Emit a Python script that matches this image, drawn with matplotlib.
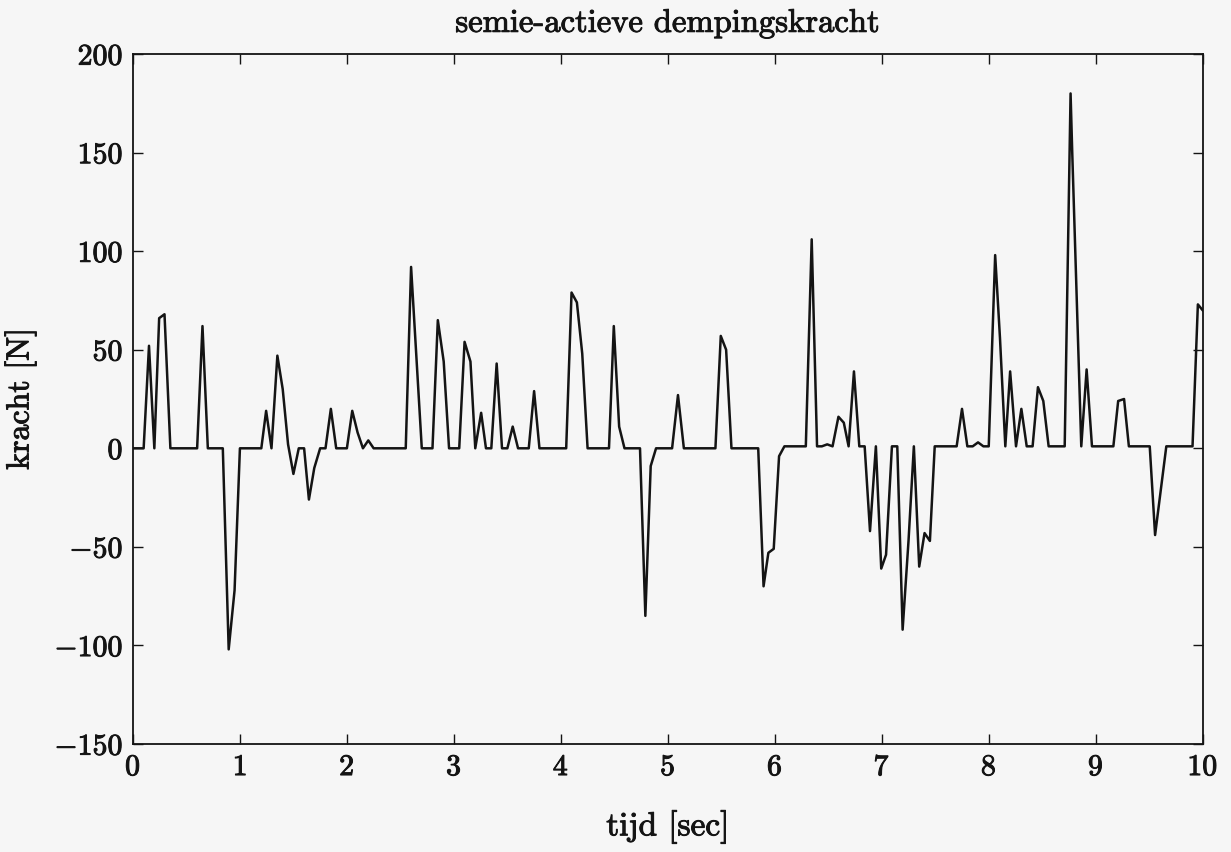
import matplotlib
matplotlib.use("Agg")
import matplotlib.pyplot as plt
import matplotlib.patheffects as pe

# breakpoints of the damping force trace
t = [
    0.0, 0.10, 0.15, 0.20, 0.245, 0.295, 0.35, 0.60, 0.65, 0.70,
    0.84, 0.895, 0.95, 1.00, 1.20, 1.245, 1.295, 1.35, 1.40, 1.45,
    1.50, 1.55, 1.60, 1.645, 1.695, 1.75, 1.80, 1.85, 1.90, 2.00,
    2.05, 2.10, 2.15, 2.20, 2.25, 2.55, 2.60, 2.70, 2.80, 2.85,
    2.905, 2.955, 3.05, 3.10, 3.155, 3.20, 3.255, 3.30, 3.35, 3.40,
    3.45, 3.50, 3.55, 3.60, 3.70, 3.75, 3.80, 4.05, 4.10, 4.15,
    4.20, 4.25, 4.45, 4.495, 4.545, 4.595, 4.74, 4.79, 4.84, 4.89,
    5.04, 5.095, 5.15, 5.445, 5.495, 5.545, 5.595, 5.845, 5.895, 5.94,
    5.99, 6.04, 6.09, 6.29, 6.345, 6.395, 6.44, 6.49, 6.54, 6.595,
    6.645, 6.69, 6.74, 6.79, 6.84, 6.89, 6.945, 6.995, 7.04, 7.095,
    7.145, 7.195, 7.25, 7.30, 7.35, 7.40, 7.45, 7.495, 7.70, 7.75,
    7.80, 7.85, 7.90, 7.95, 8.00, 8.06, 8.105, 8.155, 8.20, 8.255,
    8.305, 8.355, 8.41, 8.46, 8.51, 8.56, 8.71, 8.765, 8.78, 8.865,
    8.915, 8.965, 9.165, 9.21, 9.265, 9.31, 9.505, 9.555, 9.66, 9.905,
    9.955, 10.0,
]
kracht = [
    0, 0, 52, 0, 66, 68, 0, 0, 62, 0,
    0, -102, -72, 0, 0, 19, 0, 47, 30, 2,
    -13, 0, 0, -26, -10, 0, 0, 20, 0, 0,
    19, 8, 0, 4, 0, 0, 92, 0, 0, 65,
    44, 0, 0, 54, 44, 0, 18, 0, 0, 43,
    0, 0, 11, 0, 0, 29, 0, 0, 79, 74,
    48, 0, 0, 62, 11, 0, 0, -85, -9, 0,
    0, 27, 0, 0, 57, 50, 0, 0, -70, -53,
    -51, -4, 1, 1, 106, 1, 1, 2, 1, 16,
    13, 1, 39, 1, 1, -42, 1, -61, -54, 1,
    1, -92, -47, 1, -60, -43, -47, 1, 1, 20,
    1, 1, 3, 1, 1, 98, 56, 1, 39, 1,
    20, 1, 1, 31, 24, 1, 1, 180, 151, 1,
    40, 1, 1, 24, 25, 1, 1, -44, 1, 1,
    73, 70,
]

x_ticks = list(range(0, 11))
y_ticks = [-150, -100, -50, 0, 50, 100, 150, 200]

plt.rcParams["font.family"] = "serif"
plt.rcParams["font.serif"] = ["cmr10", "DejaVu Serif"]
plt.rcParams["mathtext.fontset"] = "cm"
plt.rcParams["axes.formatter.use_mathtext"] = True

BG = "#f6f6f6"
INK = "#141414"
# a thin outline thickens the glyphs a little, like the printed original
heavy = [pe.withStroke(linewidth=0.7, foreground=INK)]

fig = plt.figure(figsize=(12.31, 8.53), dpi=100, facecolor=BG)
ax = fig.add_axes([0.108, 0.1266, 0.869, 0.8089], facecolor=BG)

ax.plot(t, kracht, color=INK, linewidth=1.8)

ax.set_xlim(0, 10)
ax.set_ylim(-150, 200)
ax.set_xticks(x_ticks)
ax.set_yticks(y_ticks)
ax.tick_params(direction="in", length=7, width=1.0, top=True, right=True,
               labelsize=21.5, colors=INK, pad=7)
for lbl in ax.get_xticklabels() + ax.get_yticklabels():
    lbl.set_path_effects(heavy)
for side in ax.spines.values():
    side.set_linewidth(1.3)
    side.set_color(INK)

ax.set_title("semie-actieve dempingskracht", fontsize=23.5, color=INK, pad=16,
             path_effects=heavy)
ax.set_xlabel("tijd [sec]", fontsize=24, color=INK, labelpad=21,
              path_effects=heavy)
ax.set_ylabel("kracht [N]", fontsize=23, color=INK, labelpad=13,
              path_effects=heavy)

fig.savefig("out.png", dpi=100, facecolor=BG)
